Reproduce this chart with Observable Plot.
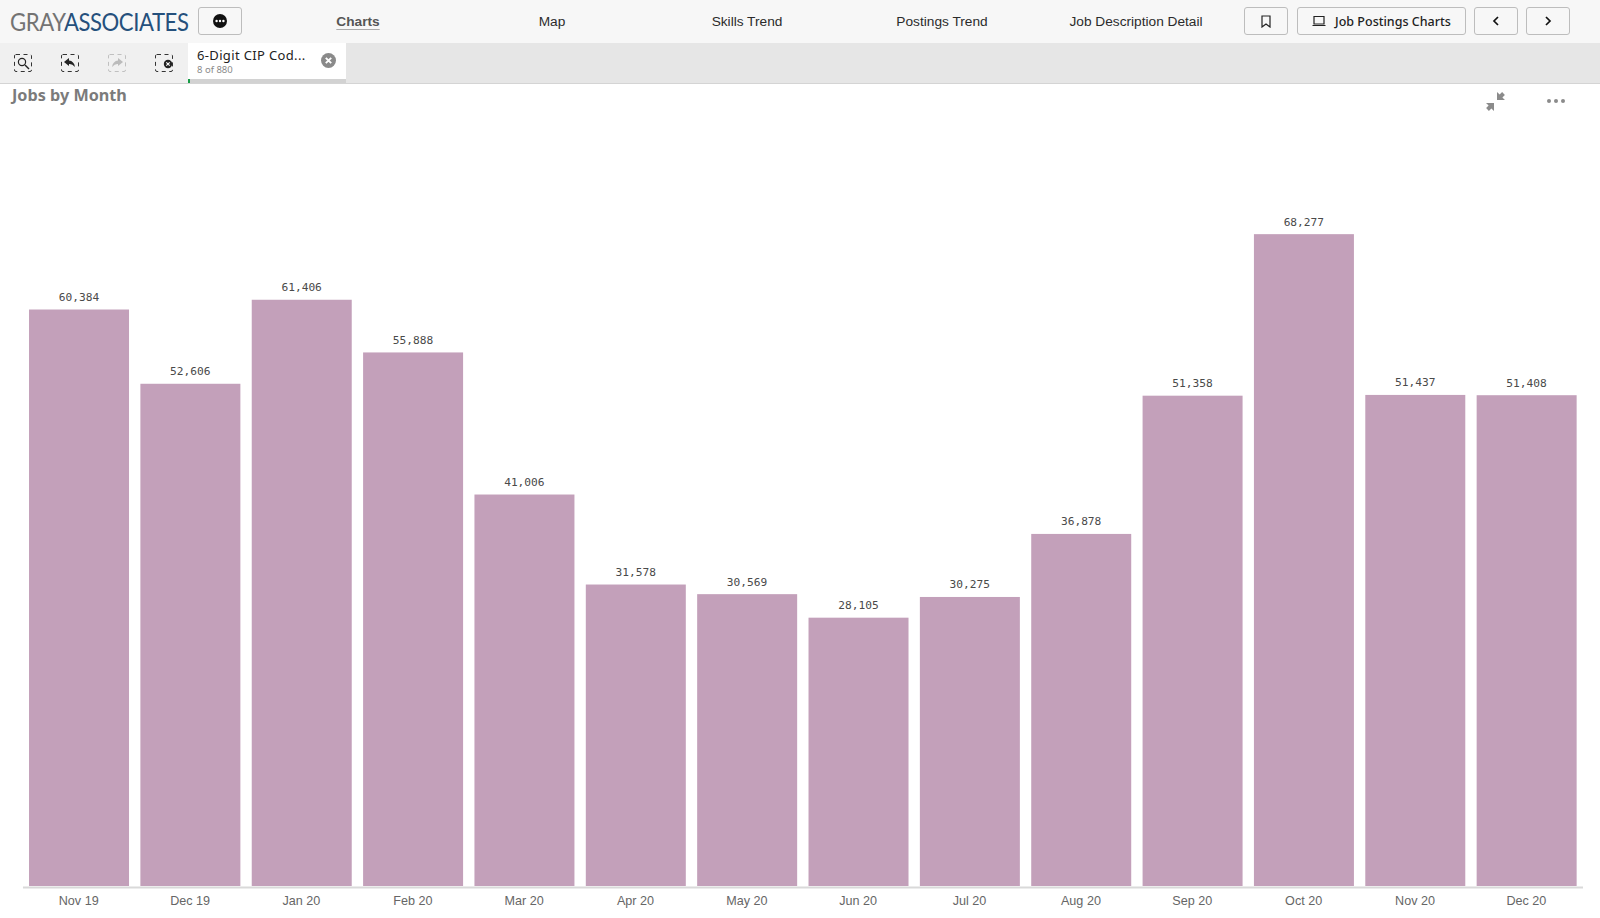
<!DOCTYPE html>
<html><head><meta charset="utf-8">
<script src="https://cdn.jsdelivr.net/npm/d3@7"></script>
<script src="https://cdn.jsdelivr.net/npm/@observablehq/plot@0.6"></script>
<style>
html,body{margin:0;padding:0;background:#fff;overflow:hidden}
#page{position:relative;width:1600px;height:918px;overflow:hidden;font-family:"Liberation Sans",sans-serif}
.abs{position:absolute}
#top{left:0;top:0;width:1600px;height:43px;background:#f7f7f7}
#bar{left:0;top:43px;width:1600px;height:41px;background:#e6e6e6;box-sizing:border-box;border-bottom:1px solid #d4d4d4}
#tools{left:0;top:43px;width:188px;height:40px;background:#f0f0f0}
#tab{left:188px;top:43px;width:158px;height:36px;background:#fff}
#tabline{left:188px;top:79px;width:158px;height:4px;background:#d2d2d2}
#tabgreen{left:188px;top:79px;width:2px;height:4px;background:#169c46}
.nav{position:absolute;top:0;height:43px;line-height:43px;font-size:13.7px;color:#2b2b2b;transform:translateX(-50%);white-space:nowrap}
.btn{position:absolute;top:7px;height:28px;box-sizing:border-box;border:1px solid #bdbdbd;border-radius:3px;background:#f7f7f7;display:flex;align-items:center;justify-content:center;color:#222}
#logo{left:10px;top:6px;font-family:"Lato";font-size:25px;line-height:30px;white-space:nowrap;letter-spacing:-.5px;transform:scaleX(.885);transform-origin:0 0}
#title{left:12px;top:84px;font-family:"Noto Sans";font-weight:700;font-size:16.2px;line-height:22px;color:#7b7b7b}
#chart{left:0;top:83px}
svg.ic{position:absolute;overflow:visible}
</style></head>
<body><div id="page">
<div class="abs" id="top"></div>
<div class="abs" id="bar"></div>
<div class="abs" id="tools"></div>
<div class="abs" id="tab"></div>
<div class="abs" id="tabline"></div>
<div class="abs" id="tabgreen"></div>
<div class="abs" id="logo"><span style="color:#737373">GRAY</span><span style="color:#25507c">ASSOCIATES</span></div>
<div class="btn" style="left:198px;width:44px"><svg width="14" height="14"><circle cx="7" cy="7" r="7" fill="#111"/><circle cx="3.6" cy="7" r="1.2" fill="#fff"/><circle cx="7" cy="7" r="1.2" fill="#fff"/><circle cx="10.4" cy="7" r="1.2" fill="#fff"/></svg></div>
<div class="nav" style="left:358px;font-weight:700;color:#555;text-decoration:underline;text-underline-offset:3px;text-decoration-color:#aaa">Charts</div>
<div class="nav" style="left:552px">Map</div>
<div class="nav" style="left:747px">Skills Trend</div>
<div class="nav" style="left:942px">Postings Trend</div>
<div class="nav" style="left:1136px">Job Description Detail</div>
<div class="btn" style="left:1244px;width:44px"><svg width="10" height="13"><path d="M1 1H9V12L5 9L1 12Z" fill="none" stroke="#222" stroke-width="1.2"/></svg></div>
<div class="btn" style="left:1297px;width:169px;font-family:'Noto Sans';font-size:12.5px;font-weight:500"><svg width="14" height="12" style="margin-right:9px"><path d="M2 1.5H12V9H2Z M0.5 10.5H13.5" fill="none" stroke="#222" stroke-width="1.2"/></svg>Job Postings Charts</div>
<div class="btn" style="left:1474px;width:44px"><svg width="8" height="12"><path d="M6 2L2 6L6 10" fill="none" stroke="#111" stroke-width="1.7"/></svg></div>
<div class="btn" style="left:1526px;width:44px"><svg width="8" height="12"><path d="M2 2L6 6L2 10" fill="none" stroke="#111" stroke-width="1.7"/></svg></div>
<svg class="ic" style="left:14px;top:54px" width="18" height="18"><rect x=".5" y=".5" width="17" height="17" rx="1.5" fill="none" stroke="#333" stroke-dasharray="4 3.5"/><circle cx="8" cy="8" r="3.6" fill="none" stroke="#222" stroke-width="1.2"/><path d="M11 11L15 15" stroke="#222" stroke-width="1.4"/></svg>
<svg class="ic" style="left:61px;top:54px" width="18" height="18"><rect x=".5" y=".5" width="17" height="17" rx="1.5" fill="none" stroke="#333" stroke-dasharray="4 3.5"/><path d="M3 8L8 4V6.5Q13 7 14 13Q11 9.5 8 10V12Z" fill="#222"/></svg>
<svg class="ic" style="left:108px;top:54px;opacity:.25" width="18" height="18"><rect x=".5" y=".5" width="17" height="17" rx="1.5" fill="none" stroke="#333" stroke-dasharray="4 3.5"/><path d="M15 8L10 4V6.5Q5 7 4 13Q7 9.5 10 10V12Z" fill="#222"/></svg>
<svg class="ic" style="left:155px;top:54px" width="18" height="18"><rect x=".5" y=".5" width="17" height="17" rx="1.5" fill="none" stroke="#333" stroke-dasharray="4 3.5"/><circle cx="13" cy="10" r="4.2" fill="#222"/><path d="M11.3 8.3L14.7 11.7M14.7 8.3L11.3 11.7" stroke="#fff" stroke-width="1.1"/></svg>
<div class="abs" style="left:197px;top:46px;font-family:'Noto Sans';font-size:13px;line-height:18px;color:#222;white-space:nowrap;letter-spacing:.35px">6-Digit CIP Cod...</div>
<div class="abs" style="left:197px;top:63px;font-family:'Noto Sans';font-size:9.5px;line-height:13px;color:#8a8a8a;white-space:nowrap">8 of 880</div>
<svg class="ic" style="left:321px;top:53px" width="15" height="15"><circle cx="7.5" cy="7.5" r="7.5" fill="#8a8a8a"/><path d="M4.8 4.8L10.2 10.2M10.2 4.8L4.8 10.2" stroke="#fff" stroke-width="1.9"/></svg>
<div class="abs" id="title">Jobs by Month</div>
<svg class="ic" style="left:1486px;top:92px" width="18" height="18"><path d="M11 0V8H19L16.4 5.4L18.9 2.9L16.1 .1L13.6 2.6Z" fill="#8b8b8b"/><path d="M8 19V11H0L2.6 13.6L.1 16.1L2.9 18.9L5.4 16.4Z" fill="#8b8b8b"/></svg>
<svg class="ic" style="left:1546px;top:98px" width="20" height="6"><circle cx="3" cy="3" r="2" fill="#8b8b8b"/><circle cx="10" cy="3" r="2" fill="#8b8b8b"/><circle cx="17" cy="3" r="2" fill="#8b8b8b"/></svg>
<div class="abs" id="chart"></div>
</div>
<script>
const months = ["Nov 19","Dec 19","Jan 20","Feb 20","Mar 20","Apr 20","May 20","Jun 20","Jul 20","Aug 20","Sep 20","Oct 20","Nov 20","Dec 20"];
const jobs = [60384,52606,61406,55888,41006,31578,30569,28105,30275,36878,51358,68277,51437,51408];
const rows = months.map((month,i)=>({month,value:jobs[i]}));
const plot = Plot.plot({
  width:1600, height:835,
  marginLeft:17.67, marginRight:12, marginTop:0, marginBottom:32,
  style:{background:"transparent",overflow:"visible"},
  x:{domain:months,label:null,padding:0.102,align:0.5,round:false},
  y:{domain:[0,84110],axis:null},
  marks:[
    Plot.barY(rows,{x:"month",y:"value",fill:"#c3a0ba"}),
    Plot.ruleY([0],{stroke:"#d9d9d9",strokeWidth:2,dy:1,insetLeft:5.3,insetRight:5}),
    Plot.text(rows,{x:"month",y:"value",text:d=>d3.format(",")(d.value),lineAnchor:"bottom",dy:-9,dx:-0.6,fontFamily:"DejaVu Sans Mono",fontSize:11.2,fill:"#4a4a4a"}),
    Plot.axisX({tickSize:0,tickPadding:10,dx:-0.8,fontSize:12.6,fontFamily:"Liberation Sans",color:"#666",label:null})
  ]
});
document.getElementById("chart").appendChild(plot);
</script>
</body></html>
